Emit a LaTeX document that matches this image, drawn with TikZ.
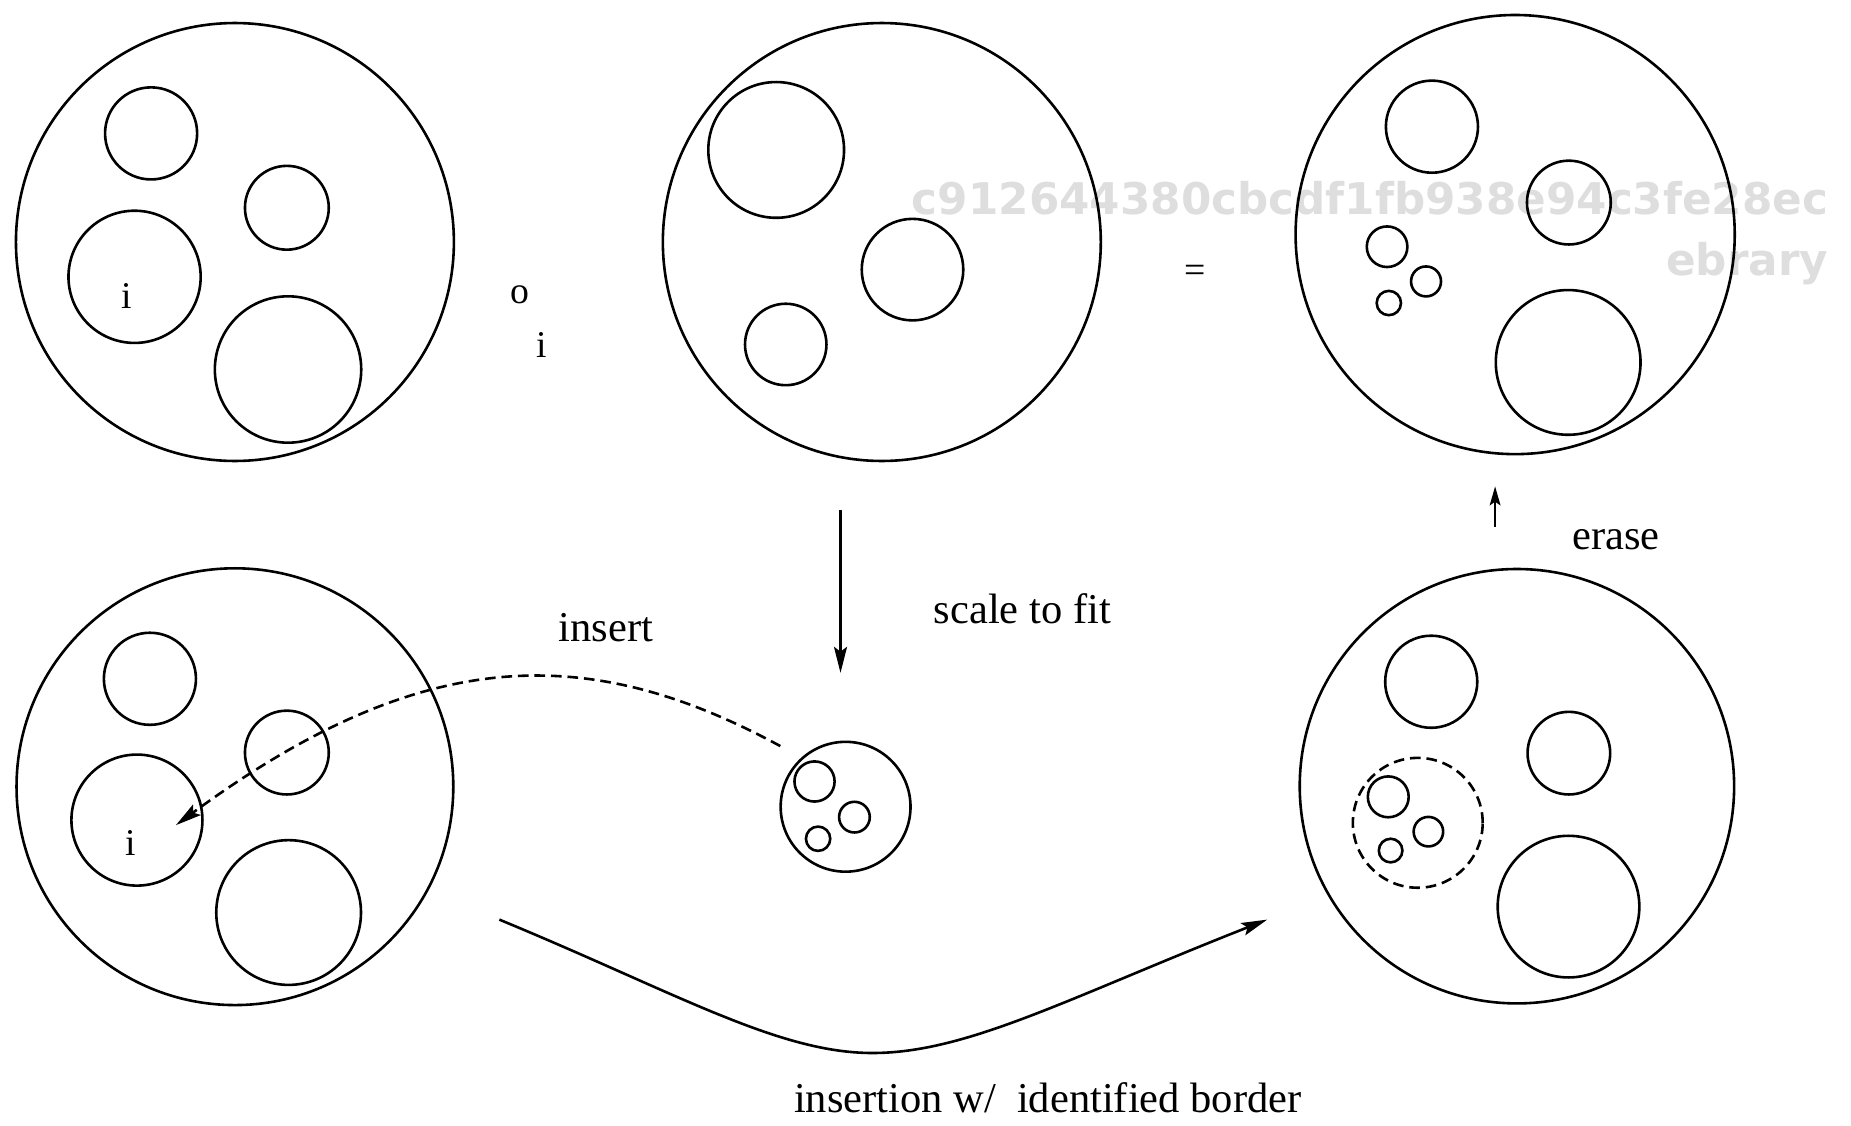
\documentclass[tikz,border=0pt]{standalone}
\usepackage{fontspec}
\setmainfont{Liberation Serif}
\newfontfamily\wmfont{DejaVu Sans}
\usetikzlibrary{arrows.meta}
\begin{document}
\begin{tikzpicture}[x=0.5pt,y=-0.5pt,
  ring/.style={circle,draw,line width=1.1pt,inner sep=0pt,outer sep=0pt},
  dring/.style={ring,dash pattern=on 4.5pt off 2.5pt},
  lbl/.style={font=\fontsize{18}{20}\selectfont,inner sep=0pt,anchor=base},
  sym/.style={font=\fontsize{16}{18}\selectfont,inner sep=0pt},
  wm/.style={font=\wmfont\bfseries\fontsize{18.5}{22}\selectfont,text=black!13,inner sep=0pt,anchor=base east},
  conn/.style={line width=1.1pt},
  tipL/.style={-{Stealth[length=11pt,width=5.5pt,inset=2pt]}},
  tipS/.style={-{Stealth[length=8pt,width=4.5pt,inset=1.5pt]}},
  dconn/.style={conn,dash pattern=on 4.5pt off 2.5pt}
]
\useasboundingbox (0,0) rectangle (1568,953);

% watermark
\node[wm] (wm1) at (1549,182) {c912644380cbcdf1fb938e94c3fe28ec};
\node[wm] (wm2) at (1549,233) {ebrary};

% ---------- panel A (top left)
\node[ring,minimum size=185.5pt] (A) at (199,205) {};
\node[ring,minimum size=39pt] (A1) at (128,113) {};
\node[ring,minimum size=35.5pt] (A2) at (243,176) {};
\node[ring,minimum size=56pt] (A3) at (114,234.5) {};
\node[ring,minimum size=62pt] (A4) at (244,313) {};
\node[sym] (Ai) at (107,251) {i};

% operator o_i
\node[sym] (opo) at (440.5,250) {o};
\node[sym] (opi) at (459,292) {i};

% ---------- panel B (top middle)
\node[ring,minimum size=185.5pt] (B) at (747,205) {};
\node[ring,minimum size=57.5pt] (B1) at (657.5,127) {};
\node[ring,minimum size=43pt] (B2) at (773,228.4) {};
\node[ring,minimum size=34.5pt] (B3) at (665.6,291.8) {};

\node[sym] (eq) at (1012.6,232) {=};

% ---------- panel C (top right)
\node[ring,minimum size=186pt] (C) at (1283.5,198.7) {};
\node[ring,minimum size=39pt] (C1) at (1213,107.3) {};
\node[ring,minimum size=35.5pt] (C2) at (1329,171.6) {};
\node[ring,minimum size=17.2pt] (C3) at (1175,209) {};
\node[ring,minimum size=12.7pt] (C4) at (1208,238.4) {};
\node[ring,minimum size=10.3pt] (C5) at (1176.5,256.7) {};
\node[ring,minimum size=61.3pt] (C6) at (1328.4,307) {};

% ---------- panel D (bottom left)
\node[ring,minimum size=185pt] (D) at (199,666.4) {};
\node[ring,minimum size=39pt] (D1) at (127,575) {};
\node[ring,minimum size=35.5pt] (D2) at (243,637.5) {};
\node[ring,minimum size=55.5pt] (D3) at (116,694.7) {};
\node[ring,minimum size=61.3pt] (D4) at (244.5,773) {};
\node[sym] (Di) at (110.5,714) {i};

% ---------- panel E (scaled)
\node[ring,minimum size=55pt] (E) at (716.3,683.4) {};
\node[ring,minimum size=17pt] (E1) at (690,662) {};
\node[ring,minimum size=13pt] (E2) at (723.8,692.2) {};
\node[ring,minimum size=10.3pt] (E3) at (693,710.5) {};

% ---------- panel F (bottom right)
\node[ring,minimum size=184pt] (F) at (1285,666) {};
\node[ring,minimum size=39pt] (F1) at (1212.4,577.5) {};
\node[ring,minimum size=35pt] (F2) at (1329,638) {};
\node[ring,minimum size=60pt] (F3) at (1328.7,768) {};
\node[dring,minimum size=55pt] (Fd) at (1201,697) {};
\node[ring,minimum size=17.3pt] (G1) at (1176,675) {};
\node[ring,minimum size=12.5pt] (G2) at (1210,704.5) {};
\node[ring,minimum size=10pt] (G3) at (1178,720.5) {};

% ---------- labels
\node[lbl] (tInsert) at (513.4,543.6) {insert};
\node[lbl] (tScale) at (866,528) {scale to fit};
\node[lbl] (tErase) at (1368.8,465.9) {erase};
\node[lbl] (tBorder) at (887.6,942) {insertion w/\ \ identified border};

% ---------- connectors
\coordinate (sfTop) at (712,432);
\coordinate (sfBot) at (712,570);
\draw[conn,tipL] (sfTop) -- (sfBot);

\coordinate (erBot) at (1266.5,446);
\coordinate (erTop) at (1266.5,412);
\draw[conn,tipS] (erBot) -- (erTop);

\coordinate (insFrom) at (661,632);
\coordinate (insTo) at (149,699);
\draw[dconn,tipL] (insFrom) .. controls (495,542) and (355,548) .. (insTo);

\coordinate (brFrom) at (423,779);
\coordinate (brMid) at (739,892);
\coordinate (brTo) at (1073.5,779);
\draw[conn,tipL] (brFrom) .. controls (573,841) and (659,892) .. (brMid)
  .. controls (819,892) and (903.5,846) .. (brTo);
\end{tikzpicture}
\end{document}
